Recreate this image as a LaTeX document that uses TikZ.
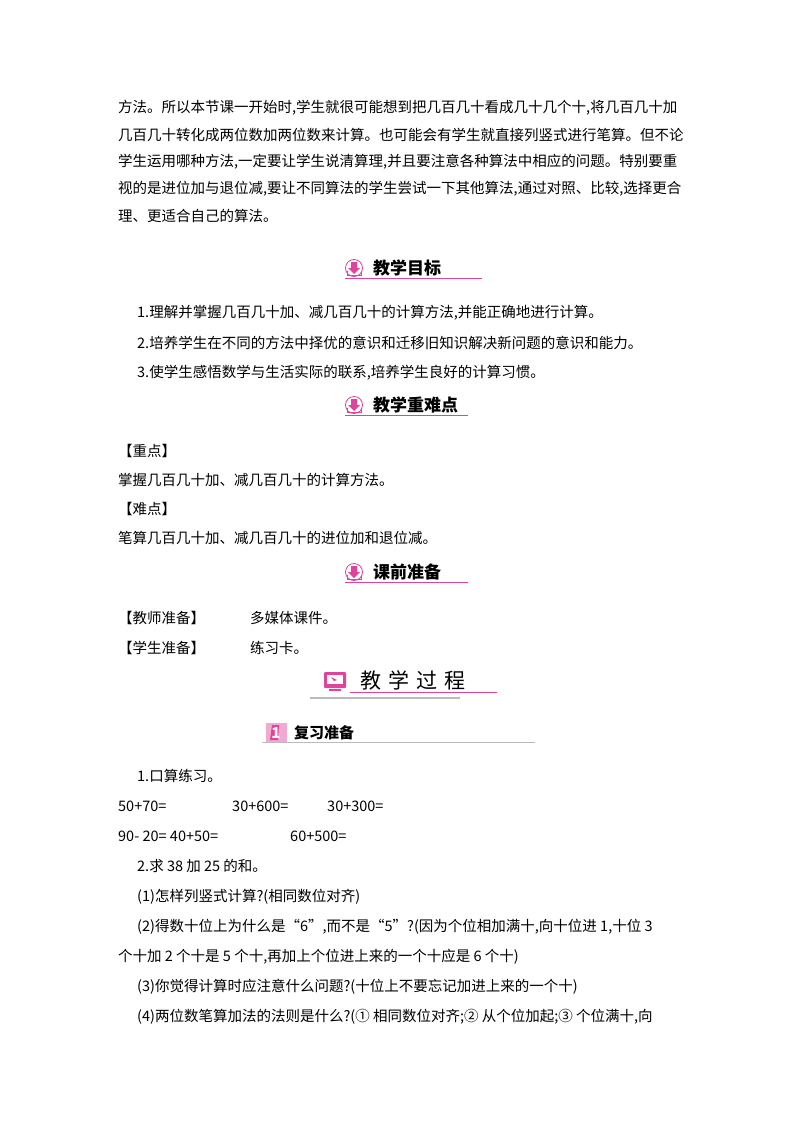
\documentclass[tikz,border=0pt]{standalone}
\usepackage{fontspec}
\setmainfont{Noto Sans CJK SC}
\definecolor{pk}{HTML}{E0439A}
\definecolor{gr}{HTML}{BBBBBB}
\begin{document}
\begin{tikzpicture}[x=1pt,y=-1pt,
 tx/.style={anchor=west,inner sep=0pt,font=\fontsize{14.5}{16}\selectfont},
 hd/.style={anchor=west,inner sep=0pt,font=\fontsize{17}{19}\selectfont\bfseries},
 ico/.style={circle,draw=pk,line width=0.8pt,fill=white,minimum size=17pt,inner sep=0pt}]
\useasboundingbox[fill=white] (0,0) rectangle (800,1132);
\node[tx] (l1) at (118,108) {方法。所以本节课一开始时,学生就很可能想到把几百几十看成几十几个十,将几百几十加};
\node[tx] (l2) at (118,135) {几百几十转化成两位数加两位数来计算。也可能会有学生就直接列竖式进行笔算。但不论};
\node[tx] (l3) at (118,162) {学生运用哪种方法,一定要让学生说清算理,并且要注意各种算法中相应的问题。特别要重};
\node[tx] (l4) at (118,189) {视的是进位加与退位减,要让不同算法的学生尝试一下其他算法,通过对照、比较,选择更合};
\node[tx] (l5) at (118,216) {理、更适合自己的算法。};
\foreach \y/\t/\r [count=\i] in {268/教学目标/482, 405/教学重难点/468, 572/课前准备/468}{
 \draw[pk,line width=0.8pt] (345,\y+10) -- (\r,\y+10);
 \node[ico] (ic\i) at (354,\y) {};
 \fill[pk] (351,\y-6) rectangle (357,\y) (348,\y) -- (360,\y) -- (354,\y+6) -- cycle;
 \draw[pk,line width=0.6pt] (347,\y+3) -- (347,\y+7) -- (361,\y+7) -- (361,\y+3);
 \node[hd] (h\i) at (373,\y) {\t};
}
\node[tx] (a1) at (137,313) {1.理解并掌握几百几十加、减几百几十的计算方法,并能正确地进行计算。};
\node[tx] (a2) at (137,343) {2.培养学生在不同的方法中择优的意识和迁移旧知识解决新问题的意识和能力。};
\node[tx] (a3) at (137,373) {3.使学生感悟数学与生活实际的联系,培养学生良好的计算习惯。};
\node[tx] (b1) at (118,451) {【重点】};
\node[tx] (b2) at (118,480) {掌握几百几十加、减几百几十的计算方法。};
\node[tx] (b3) at (118,509) {【难点】};
\node[tx] (b4) at (118,538) {笔算几百几十加、减几百几十的进位加和退位减。};
\node[tx] (c1) at (118,618) {【教师准备】};
\node[tx] (c2) at (250,618) {多媒体课件。};
\node[tx] (c3) at (118,648) {【学生准备】};
\node[tx] (c4) at (250,648) {练习卡。};
\draw[pk,line width=0.8pt] (350,692) -- (497,692);
\draw[gr,line width=1.2pt] (310,698) -- (460,698);
\fill[pk,rounded corners=1pt] (324,672) rectangle (346,688);
\fill[white] (327,675) rectangle (343,684);
\fill[pk] (331,677) -- (337,680) -- (334,681) -- cycle;
\fill[pk] (329,689) rectangle (341,691);
\node[anchor=west,inner sep=0pt,font=\fontsize{21}{23}\selectfont] (gc) at (360,680) {教\hspace{7pt}学\hspace{7pt}过\hspace{7pt}程};
\draw[gr,line width=0.8pt] (262,742) -- (535,742);
\fill[pk!45] (266,723) rectangle (287,742);
\fill[pk] (272,725) -- (279,725) -- (278,740) -- (270,740) -- cycle;
\node[anchor=center,inner sep=0pt,text=white,font=\fontsize{15}{15}\selectfont\bfseries\itshape] (n1) at (276,733) {1};
\node[hd,font=\fontsize{15}{17}\selectfont\bfseries] (h4) at (294,733) {复习准备};
\node[tx] (d1) at (137,776) {1.口算练习。};
\node[tx] (d2) at (118,806) {50+70=};
\node[tx] (d3) at (232,806) {30+600=};
\node[tx] (d4) at (327,806) {30+300=};
\node[tx] (d5) at (118,836) {90- 20= 40+50=};
\node[tx] (d6) at (290,836) {60+500=};
\node[tx] (d7) at (137,866) {2.求 38 加 25 的和。};
\node[tx] (d8) at (137,897) {(1)怎样列竖式计算?(相同数位对齐)};
\node[tx] (d9) at (137,927) {(2)得数十位上为什么是“6”,而不是“5”?(因为个位相加满十,向十位进 1,十位 3};
\node[tx] (d10) at (118,957) {个十加 2 个十是 5 个十,再加上个位进上来的一个十应是 6 个十)};
\node[tx] (d11) at (137,987) {(3)你觉得计算时应注意什么问题?(十位上不要忘记加进上来的一个十)};
\node[tx] (d12) at (137,1017) {(4)两位数笔算加法的法则是什么?(① 相同数位对齐;② 从个位加起;③ 个位满十,向};
\end{tikzpicture}
\end{document}
